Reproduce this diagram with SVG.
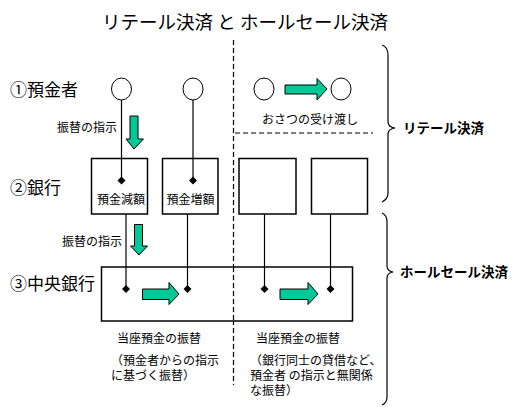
<svg xmlns="http://www.w3.org/2000/svg" width="525" height="420" viewBox="0 0 525 420">
<style>
text{font-family:"Noto Sans CJK JP","Noto Sans",sans-serif;fill:#000}
.t{font-size:18.5px}
.row{font-size:17px}
.s{font-size:12px}
.b{font-size:13.5px;font-weight:bold}
.ln{stroke:#000;stroke-width:1.2;fill:none}
.box{stroke:#000;stroke-width:1.5;fill:#fff}
.circ{stroke:#000;stroke-width:1;fill:#fff}
.dash{stroke:#000;stroke-width:1.2;stroke-dasharray:5,3;fill:none}
.ar{fill:#00C896;stroke:#000;stroke-width:1}
.dm{fill:#000}
</style>
<defs>
<path id="dia" d="M0,-4 L4,0 L0,4 L-4,0 Z"/>
</defs>
<rect width="525" height="420" fill="#fff"/>
<text class="t" x="245" y="29" text-anchor="middle">リテール決済 と ホールセール決済</text>

<g id="dividers">
<line class="dash" x1="233.5" y1="40" x2="233.5" y2="385"/>
<line class="dash" x1="235" y1="133" x2="373" y2="133"/>
</g>

<g id="row-labels">
<text class="row" x="10" y="96">①預金者</text>
<text class="row" x="10" y="194">②銀行</text>
<text class="row" x="10" y="290">③中央銀行</text>
</g>

<g id="central-bank">
<rect class="box" x="101.5" y="267" width="251" height="54"/>
</g>
<g id="divider-over">
<line class="dash" x1="233.5" y1="267" x2="233.5" y2="321"/>
</g>

<g id="depositors">
<ellipse class="circ" cx="121.5" cy="89" rx="10" ry="11"/>
<ellipse class="circ" cx="193" cy="89" rx="10" ry="11"/>
<ellipse class="circ" cx="264" cy="89" rx="10" ry="11"/>
<ellipse class="circ" cx="341" cy="89" rx="10" ry="11"/>
</g>

<g id="bank1">
<rect class="box" x="91.5" y="158.5" width="56" height="55.5"/>
<text class="s" x="121" y="204" text-anchor="middle">預金減額</text>
</g>
<g id="bank2">
<rect class="box" x="162.5" y="158.5" width="55.5" height="55.5"/>
<text class="s" x="190.5" y="204" text-anchor="middle">預金増額</text>
</g>
<g id="bank3"><rect class="box" x="239" y="158.5" width="57" height="55.5"/></g>
<g id="bank4"><rect class="box" x="311.5" y="158.5" width="56" height="55.5"/></g>

<g id="connectors">
<line class="ln" x1="121.5" y1="100" x2="121.5" y2="180"/>
<line class="ln" x1="193" y1="100" x2="193" y2="180"/>
<line class="ln" x1="126" y1="214" x2="126" y2="289"/>
<line class="ln" x1="187.5" y1="214" x2="187.5" y2="289"/>
<line class="ln" x1="264.5" y1="214" x2="264.5" y2="289"/>
<line class="ln" x1="330.5" y1="214" x2="330.5" y2="289"/>
<use href="#dia" class="dm" x="121.5" y="180.5"/>
<use href="#dia" class="dm" x="193" y="180.5"/>
<use href="#dia" class="dm" x="126" y="289"/>
<use href="#dia" class="dm" x="187.5" y="289"/>
<use href="#dia" class="dm" x="264.5" y="289"/>
<use href="#dia" class="dm" x="330.5" y="289"/>
</g>

<g id="arrows">
<path class="ar" d="M130,116 H138 V139 H143.5 L134,149 L126,139 H130 Z"/>
<path class="ar" d="M134.5,224.5 H142.5 V246 H147.5 L139,255 L130.5,246 H134.5 Z"/>
<path class="ar" d="M285,85 H317 V78.5 L327,89 L317,100 V94 H285 Z"/>
<path class="ar" d="M142.5,289 H169 V282.5 L179,294 L169,304.5 V299.5 H142.5 Z"/>
<path class="ar" d="M280,289 H308 V282.5 L318,294 L308,304.5 V299.5 H280 Z"/>
</g>

<g id="labels">
<text class="s" x="57" y="132">振替の指示</text>
<text class="s" x="62" y="246">振替の指示</text>
<text class="s" x="310" y="124" text-anchor="middle">おさつの受け渡し</text>
<text class="s" x="117" y="343">当座預金の振替</text>
<text class="s" x="111" y="365">（預金者からの指示<tspan x="111" dy="15">に基づく振替）</tspan></text>
<text class="s" x="256" y="343">当座預金の振替</text>
<text class="s" x="250" y="365">（銀行同士の貸借など、<tspan x="250" dy="15">預金者 の指示と無関係</tspan><tspan x="250" dy="15">な振替）</tspan></text>
</g>

<g id="braces">
<path class="ln" d="M382,45 Q388,47 388,55 V122 Q388,127 395,128 Q388,129 388,134 V193 Q388,199 382,202"/>
<path class="ln" d="M382,213 Q387,215 387,222 V266 Q387,271 393,272 Q387,273 387,278 V397 Q387,403 382,405"/>
<text class="b" x="403" y="133">リテール決済</text>
<text class="b" x="400" y="277">ホールセール決済</text>
</g>
</svg>
